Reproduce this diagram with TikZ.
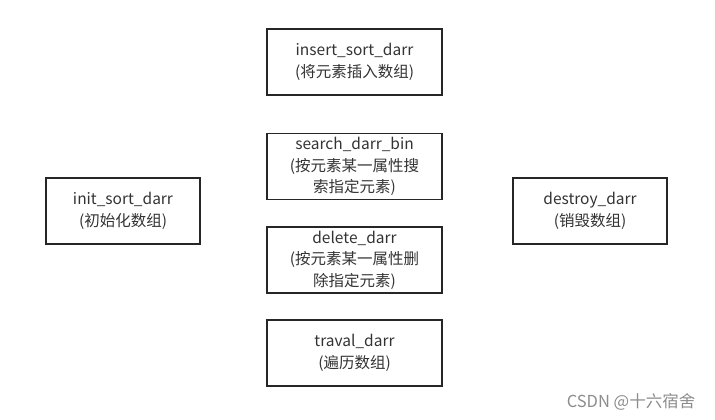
\documentclass[tikz,border=0pt]{standalone}
\usepackage{fontspec}
\newfontfamily\cjk{Noto Sans CJK SC}
\usetikzlibrary{positioning}
\tikzset{
    funcbox/.style={rectangle, draw=black!85, line width=1.8pt, text=black!80, font=\cjk\fontsize{15.5}{21.5}\selectfont, align=center, minimum width=175pt, minimum height=66pt, inner sep=2pt},
    sidebox/.style={funcbox, minimum width=154pt},
    mark text/.style={text=black!45, font=\cjk\fontsize{16.5}{18}\selectfont}
}
\begin{document}
\begin{tikzpicture}[x=1pt, y=-1pt]
  \useasboundingbox (0,0) rectangle (715,420);
  \node[funcbox] (insert) at (354.5, 62.0) {insert\_sort\_darr\\(将元素插入数组)};
  \node[funcbox] (search) at (354.5, 166.5) {search\_darr\_bin\\(按元素某一属性搜\\索指定元素)};
  \node[funcbox] (delete) at (354.5, 260.0) {delete\_darr\\(按元素某一属性删\\除指定元素)};
  \node[funcbox] (traval) at (354.5, 353.0) {traval\_darr\\(遍历数组)};
  \node[sidebox] (init) at (123.0, 211.0) {init\_sort\_darr\\(初始化数组)};
  \node[sidebox] (destroy) at (590.0, 211.0) {destroy\_darr\\(销毁数组)};
  \node[mark text] (csdn) at (631, 402) {CSDN @十六宿舍};
\end{tikzpicture}
\end{document}
